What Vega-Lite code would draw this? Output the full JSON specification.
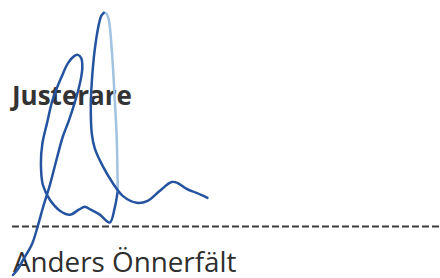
{
  "$schema": "https://vega.github.io/schema/vega-lite/v6.json",
  "width": 440,
  "height": 278,
  "padding": 0,
  "autosize": {"type": "fit", "contains": "padding"},
  "background": "white",
  "config": {"view": {"stroke": null}},
  "datasets": {
    "sig": [
      {"part": "a", "o": 1, "x": 13, "y": 278},
      {"part": "a", "o": 2, "x": 18, "y": 272},
      {"part": "a", "o": 3, "x": 23, "y": 263},
      {"part": "a", "o": 4, "x": 32, "y": 247},
      {"part": "a", "o": 5, "x": 38, "y": 228},
      {"part": "a", "o": 6, "x": 43, "y": 210},
      {"part": "a", "o": 7, "x": 50, "y": 187},
      {"part": "a", "o": 8, "x": 57, "y": 160},
      {"part": "a", "o": 9, "x": 63, "y": 138},
      {"part": "a", "o": 10, "x": 69, "y": 122},
      {"part": "a", "o": 11, "x": 76, "y": 100},
      {"part": "a", "o": 12, "x": 81, "y": 80},
      {"part": "a", "o": 13, "x": 82.5, "y": 68},
      {"part": "a", "o": 14, "x": 81.5, "y": 59},
      {"part": "a", "o": 15, "x": 78, "y": 55.5},
      {"part": "a", "o": 16, "x": 74, "y": 57},
      {"part": "a", "o": 17, "x": 68, "y": 64},
      {"part": "a", "o": 18, "x": 62, "y": 77},
      {"part": "a", "o": 19, "x": 53, "y": 100},
      {"part": "a", "o": 20, "x": 47, "y": 125},
      {"part": "a", "o": 21, "x": 42.5, "y": 145},
      {"part": "a", "o": 22, "x": 41, "y": 165},
      {"part": "a", "o": 23, "x": 43, "y": 187},
      {"part": "a", "o": 24, "x": 50, "y": 202},
      {"part": "a", "o": 25, "x": 60, "y": 213},
      {"part": "a", "o": 26, "x": 70, "y": 217},
      {"part": "a", "o": 27, "x": 79, "y": 212},
      {"part": "a", "o": 28, "x": 85, "y": 209},
      {"part": "a", "o": 29, "x": 91, "y": 212},
      {"part": "a", "o": 30, "x": 100, "y": 217},
      {"part": "a", "o": 31, "x": 110, "y": 225},
      {"part": "a", "o": 32, "x": 115, "y": 210},
      {"part": "a", "o": 33, "x": 118, "y": 193},
      {"part": "b", "o": 1, "x": 118, "y": 193},
      {"part": "b", "o": 2, "x": 117, "y": 140},
      {"part": "b", "o": 3, "x": 115, "y": 100},
      {"part": "b", "o": 4, "x": 112, "y": 50},
      {"part": "b", "o": 5, "x": 109, "y": 20},
      {"part": "b", "o": 6, "x": 106.5, "y": 13.5},
      {"part": "b", "o": 7, "x": 104, "y": 13},
      {"part": "c", "o": 1, "x": 104, "y": 13},
      {"part": "c", "o": 2, "x": 101.5, "y": 16},
      {"part": "c", "o": 3, "x": 99, "y": 25},
      {"part": "c", "o": 4, "x": 95, "y": 50},
      {"part": "c", "o": 5, "x": 92, "y": 83},
      {"part": "c", "o": 6, "x": 91, "y": 107},
      {"part": "c", "o": 7, "x": 92, "y": 135},
      {"part": "c", "o": 8, "x": 95, "y": 150},
      {"part": "c", "o": 9, "x": 103, "y": 168},
      {"part": "c", "o": 10, "x": 113, "y": 185},
      {"part": "c", "o": 11, "x": 123, "y": 198},
      {"part": "c", "o": 12, "x": 137, "y": 205},
      {"part": "c", "o": 13, "x": 148, "y": 203},
      {"part": "c", "o": 14, "x": 160, "y": 193},
      {"part": "c", "o": 15, "x": 172, "y": 184},
      {"part": "c", "o": 16, "x": 178, "y": 185},
      {"part": "c", "o": 17, "x": 187, "y": 191},
      {"part": "c", "o": 18, "x": 197, "y": 195},
      {"part": "c", "o": 19, "x": 208, "y": 200}
    ],
    "labels": [
      {"kind": "title", "text": "Justerare", "x": 12, "y": 106},
      {"kind": "name", "text": "Anders Önnerfält", "x": 13, "y": 275}
    ],
    "rule": [{"x": 12, "x2": 440, "y": 229}]
  },
  "layer": [
    {
      "data": {"name": "labels"},
      "transform": [{"filter": "datum.kind == 'title'"}],
      "mark": {"type": "text", "align": "left", "baseline": "alphabetic", "font": "Open Sans", "fontWeight": "bold", "fontSize": 26, "color": "#333333"},
      "encoding": {
        "x": {"field": "x", "type": "quantitative", "scale": {"domain": [0, 440], "nice": false, "zero": false}, "axis": null},
        "y": {"field": "y", "type": "quantitative", "scale": {"domain": [0, 278], "nice": false, "zero": false, "reverse": true}, "axis": null},
        "text": {"field": "text"}
      }
    },
    {
      "data": {"name": "labels"},
      "transform": [{"filter": "datum.kind == 'name'"}],
      "mark": {"type": "text", "align": "left", "baseline": "alphabetic", "font": "Open Sans", "fontSize": 27.8, "color": "#2e2e2e"},
      "encoding": {
        "x": {"field": "x", "type": "quantitative", "scale": {"domain": [0, 440], "nice": false, "zero": false}, "axis": null},
        "y": {"field": "y", "type": "quantitative", "scale": {"domain": [0, 278], "nice": false, "zero": false, "reverse": true}, "axis": null},
        "text": {"field": "text"}
      }
    },
    {
      "data": {"name": "rule"},
      "mark": {"type": "rule", "strokeDash": [7, 3], "strokeWidth": 2, "color": "#3a3a3a"},
      "encoding": {
        "x": {"field": "x", "type": "quantitative", "scale": {"domain": [0, 440], "nice": false, "zero": false}, "axis": null},
        "x2": {"field": "x2"},
        "y": {"field": "y", "type": "quantitative", "scale": {"domain": [0, 278], "nice": false, "zero": false, "reverse": true}, "axis": null}
      }
    },
    {
      "data": {"name": "sig"},
      "mark": {"type": "line", "interpolate": "catmull-rom", "strokeWidth": 2.5, "strokeCap": "round", "strokeJoin": "round"},
      "encoding": {
        "x": {"field": "x", "type": "quantitative", "scale": {"domain": [0, 440], "nice": false, "zero": false}, "axis": null},
        "y": {"field": "y", "type": "quantitative", "scale": {"domain": [0, 278], "nice": false, "zero": false, "reverse": true}, "axis": null},
        "order": {"field": "o", "type": "quantitative"},
        "detail": {"field": "part", "type": "nominal"},
        "color": {"field": "part", "type": "nominal", "scale": {"domain": ["a", "b", "c"], "range": ["#24539f", "#9fc3e0", "#24539f"]}, "legend": null}
      }
    }
  ]
}
